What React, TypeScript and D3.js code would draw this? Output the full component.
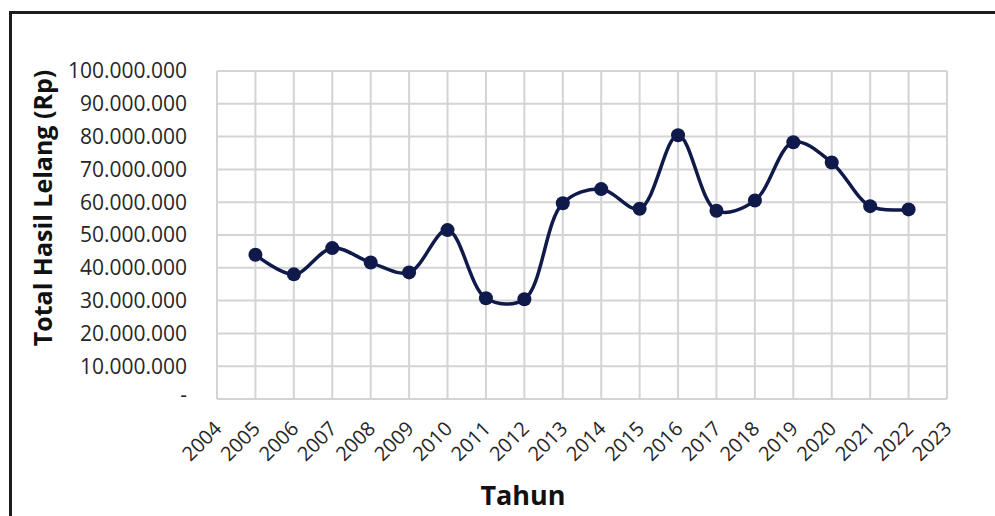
import React from 'react';
import * as d3 from 'd3';

// Total hasil lelang per tahun (Rp)
const years = [2005, 2006, 2007, 2008, 2009, 2010, 2011, 2012, 2013, 2014, 2015, 2016, 2017, 2018, 2019, 2020, 2021, 2022];
const totals = [
  44000000, 38000000, 46000000, 41600000, 38600000, 51500000, 30700000, 30400000, 59700000,
  64000000, 58000000, 80400000, 57400000, 60500000, 78300000, 72100000, 58800000, 57800000,
];
const xTicks = d3.range(2004, 2024);
const yTicks = d3.range(0, 100000001, 10000000);

const width = 995;
const height = 516;
const plot = { left: 217, right: 947, top: 71, bottom: 399 };

const fmtRp = (v: number) => (v === 0 ? '-' : d3.format(',')(v).replace(/,/g, '.'));

const App: React.FC = () => {
  const x = d3.scaleLinear().domain([2004, 2023]).range([plot.left, plot.right]);
  const y = d3.scaleLinear().domain([0, 100000000]).range([plot.bottom, plot.top]);

  const line = d3.line<number>()
    .x((_, i) => x(years[i]))
    .y(d => y(d))
    .curve(d3.curveCatmullRom.alpha(0.5));

  const font = '"Open Sans", "Liberation Sans", sans-serif';

  return (
    <div style={{ position: 'absolute', left: 0, top: 0 }}>
      <svg width={width} height={height} style={{ display: 'block', background: '#fff' }} fontFamily={font}>
        {/* outer chart frame (cut off on right and bottom) */}
        <path d={`M10.5,${height} V12.5 H${width}`} fill="none" stroke="#1c1c1c" strokeWidth={3} />

        {/* gridlines */}
        <g stroke="#d4d4d4" strokeWidth={2}>
          {yTicks.map(t => (
            <line key={'h' + t} x1={plot.left} x2={plot.right} y1={y(t)} y2={y(t)} />
          ))}
          {xTicks.map(t => (
            <line key={'v' + t} x1={x(t)} x2={x(t)} y1={plot.top} y2={plot.bottom} />
          ))}
        </g>

        {/* y tick labels */}
        <g fontSize={21} fill="#262626" textAnchor="end">
          {yTicks.map(t => (
            <text key={t} x={187} y={y(t) - (t === 0 ? 4 : 0)} dy="0.35em">{fmtRp(t)}</text>
          ))}
        </g>

        {/* x tick labels */}
        <g fontSize={20} fill="#262626" textAnchor="end">
          {xTicks.map(t => (
            <text key={t} transform={`translate(${x(t) + 1},${425}) rotate(-45)`} dy="0.35em">{t}</text>
          ))}
        </g>

        {/* series */}
        <path d={line(totals) || ''} fill="none" stroke="#0f1a4a" strokeWidth={3.5} />
        {totals.map((v, i) => (
          <circle key={years[i]} cx={x(years[i])} cy={y(v)} r={7} fill="#0f1a4a" />
        ))}

        {/* axis titles */}
        <text x={523} y={505} textAnchor="middle" fontSize={27} fontWeight="bold" fill="#111">Tahun</text>
        <text transform="translate(52,208) rotate(-90)" textAnchor="middle" fontSize={25} fontWeight="bold" fill="#111">
          Total Hasil Lelang (Rp)
        </text>
      </svg>
    </div>
  );
};

export default App;
